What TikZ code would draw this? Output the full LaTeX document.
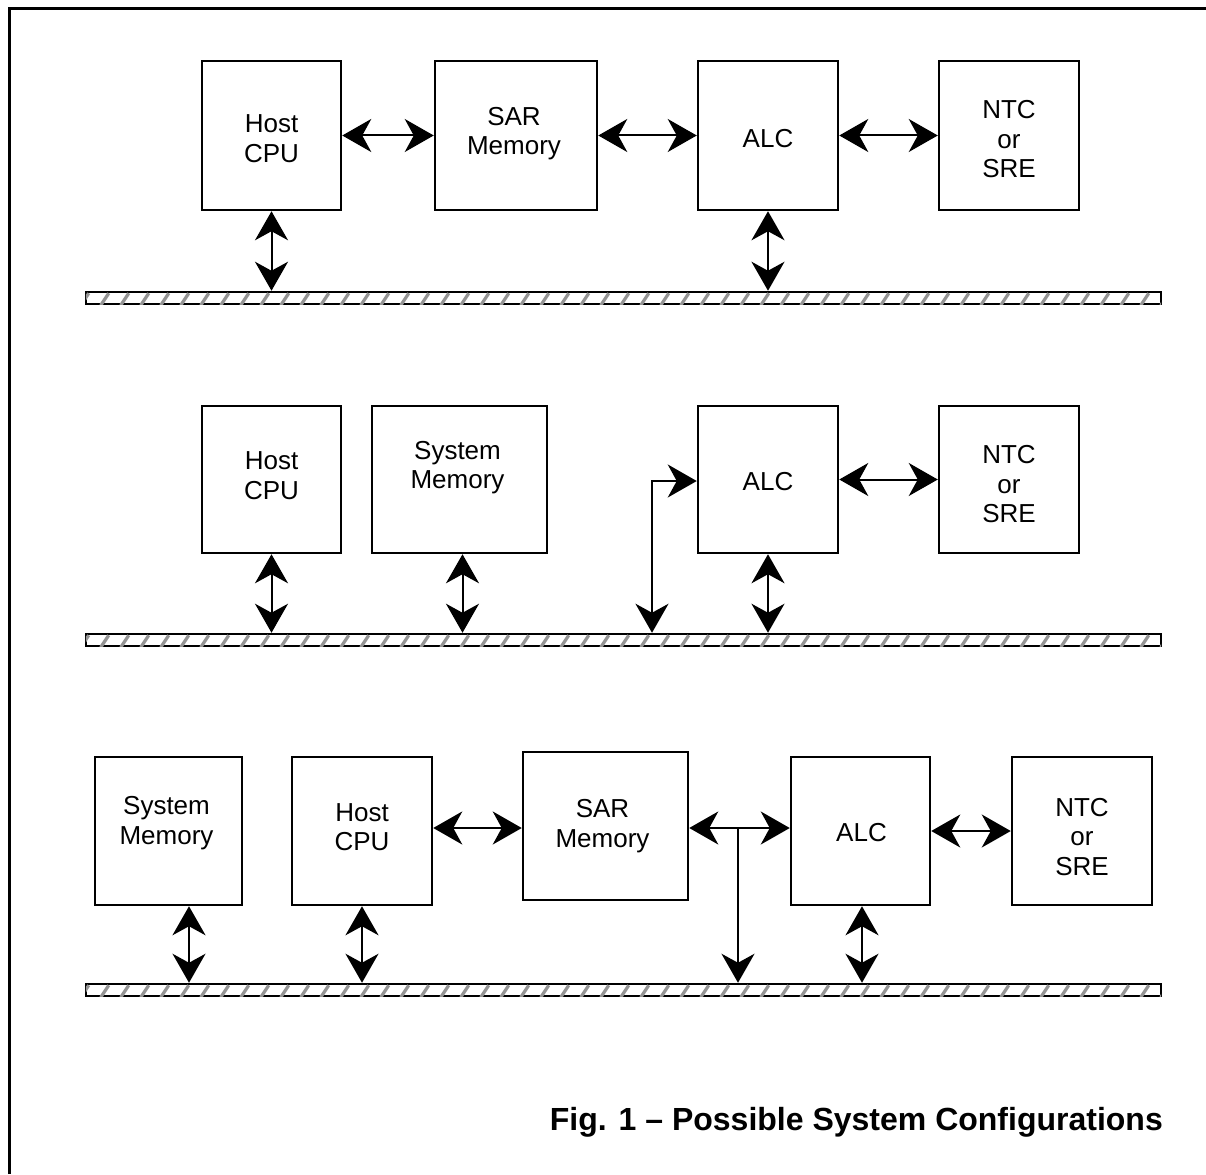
\documentclass[tikz,border=0pt]{standalone}
\usepackage{fontspec}
\setmainfont{Liberation Sans}
\usetikzlibrary{arrows.meta,calc}

\tikzset{
  blk/.style={draw, line width=2.5pt, fill=white, inner sep=0pt},
  txt/.style={align=center, inner sep=0pt, font=\fontsize{26}{29.5}\selectfont},
  busbar/.style={draw, line width=2.5pt, fill=white, minimum width=1075pt,
                 minimum height=12pt, inner sep=0pt},
  hatchline/.style={draw=black!42, line width=3.2pt},
  tip/.tip={Stealth[length=29pt, width=33pt, inset=9pt]},
  dbl/.style={line width=2pt, tip-tip},
  sgl/.style={line width=2pt, -tip},
  frame/.style={line width=3pt},
}

% diagonal shading inside a bus bar
\newcommand{\hatchbus}[1]{%
  \begin{scope}
    \clip ([shift={(1.2pt,1.2pt)}]#1.south west) rectangle ([shift={(-1.2pt,-1.2pt)}]#1.north east);
    \foreach \i in {0,...,55}
      \draw[hatchline] ([xshift={\i*20pt-4pt}]#1.south west) -- ++(8pt,12pt);
  \end{scope}}

\begin{document}
\begin{tikzpicture}[x=1pt, y=-1pt]
  \useasboundingbox (0,0) rectangle (1206,1174);

  % page frame
  \draw[frame] (9,1174) -- (9,9) -- (1206,9);

  % ---------- configuration 1 ----------
  \node[blk, minimum width=139pt, minimum height=149pt] (cpuA) at (271.5,135.5) {};
  \node[blk, minimum width=162pt, minimum height=149pt] (sarA) at (516,135.5) {};
  \node[blk, minimum width=140pt, minimum height=149pt] (alcA) at (768,135.5) {};
  \node[blk, minimum width=140pt, minimum height=149pt] (ntcA) at (1009,135.5) {};
  \node[txt] (cpuAt) at ([shift={(0,3)}]cpuA.center) {Host\\CPU};
  \node[txt] (sarAt) at ([shift={(-2,-2)}]sarA.center) {SAR\\Memory};
  \node[txt] (alcAt) at ([shift={(0,3)}]alcA.center) {ALC};
  \node[txt] (ntcAt) at ([shift={(0,4)}]ntcA.center) {NTC\\or\\SRE};
  \node[busbar] (busA) at (623.5,298) {};
  \hatchbus{busA}

  \draw[dbl] (cpuA.east) -- (sarA.west);
  \draw[dbl] (sarA.east) -- (alcA.west);
  \draw[dbl] (alcA.east) -- (ntcA.west);
  \draw[dbl] (cpuA.south) -- (cpuA.south |- busA.north);
  \draw[dbl] (alcA.south) -- (alcA.south |- busA.north);

  % ---------- configuration 2 ----------
  \node[blk, minimum width=139pt, minimum height=147pt] (cpuB) at (271.5,479.5) {};
  \node[blk, minimum width=175pt, minimum height=147pt] (memB) at (459.5,479.5) {};
  \node[blk, minimum width=140pt, minimum height=147pt] (alcB) at (768,479.5) {};
  \node[blk, minimum width=140pt, minimum height=147pt] (ntcB) at (1009,479.5) {};
  \node[txt] (cpuBt) at ([shift={(0,-4)}]cpuB.center) {Host\\CPU};
  \node[txt] (memBt) at ([shift={(-2,-12)}]memB.center) {System\\Memory};
  \node[txt] (alcBt) at ([shift={(0,2)}]alcB.center) {ALC};
  \node[txt] (ntcBt) at ([shift={(0,5)}]ntcB.center) {NTC\\or\\SRE};
  \node[busbar] (busB) at (623.5,640) {};
  \hatchbus{busB}

  \coordinate (bendB) at (652,481);
  \draw[dbl] (alcB.east) -- (ntcB.west);
  \draw[dbl] (cpuB.south) -- (cpuB.south |- busB.north);
  \draw[dbl] ([xshift=3pt]memB.south) -- ([xshift=3pt]memB.south |- busB.north);
  \draw[dbl] (alcB.south) -- (alcB.south |- busB.north);
  \draw[dbl] (bendB |- busB.north) -- (bendB) -- (alcB.west |- bendB);

  % ---------- configuration 3 ----------
  \node[blk, minimum width=147pt, minimum height=148pt] (sysC) at (168.5,831) {};
  \node[blk, minimum width=140pt, minimum height=148pt] (cpuC) at (362,831) {};
  \node[blk, minimum width=165pt, minimum height=148pt] (sarC) at (605.5,826) {};
  \node[blk, minimum width=139pt, minimum height=148pt] (alcC) at (860.5,831) {};
  \node[blk, minimum width=140pt, minimum height=148pt] (ntcC) at (1082,831) {};
  \node[txt] (sysCt) at ([shift={(-2,-8)}]sysC.center) {System\\Memory};
  \node[txt] (cpuCt) at ([shift={(0,-4)}]cpuC.center) {Host\\CPU};
  \node[txt] (sarCt) at ([shift={(-3,0)}]sarC.center) {SAR\\Memory};
  \node[txt] (alcCt) at ([shift={(1,2)}]alcC.center) {ALC};
  \node[txt] (ntcCt) at ([shift={(0,6)}]ntcC.center) {NTC\\or\\SRE};
  \node[busbar] (busC) at (623.5,990) {};
  \hatchbus{busC}

  \coordinate (tapC) at (738,828);
  \draw[dbl] (cpuC.east |- tapC) -- (sarC.west |- tapC);
  \draw[dbl] (sarC.east |- tapC) -- (alcC.west |- tapC);
  \draw[sgl] (tapC) -- (tapC |- busC.north);
  \draw[dbl] (alcC.east) -- (ntcC.west);
  \draw[dbl] ([xshift=20.5pt]sysC.south) -- ([xshift=20.5pt]sysC.south |- busC.north);
  \draw[dbl] (cpuC.south) -- (cpuC.south |- busC.north);
  \draw[dbl] ([xshift=1.5pt]alcC.south) -- ([xshift=1.5pt]alcC.south |- busC.north);

  % caption
  \node[anchor=base east, inner sep=0pt, font=\bfseries\fontsize{32}{38}\selectfont]
    (caption) at (1163,1130) {Fig. 1 -- Possible System Configurations};
\end{tikzpicture}
\end{document}
